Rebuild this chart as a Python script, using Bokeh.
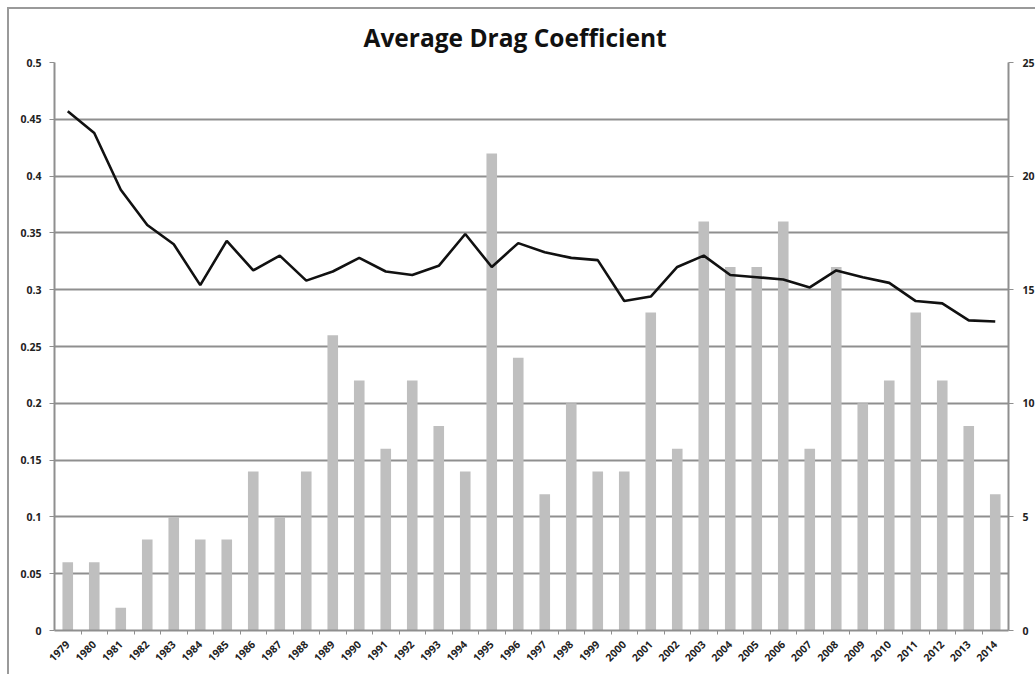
import math

from bokeh.embed import file_html
from bokeh.models import FixedTicker, LinearAxis, Range1d
from bokeh.plotting import figure
from bokeh.resources import INLINE

# Model years shown along the bottom axis
years = list(range(1979, 2015))

# Average drag coefficient per model year (left axis)
avg_cd = [0.457, 0.438, 0.388, 0.357, 0.340, 0.304, 0.343, 0.317, 0.330,
          0.308, 0.316, 0.328, 0.316, 0.313, 0.321, 0.349, 0.320, 0.341,
          0.333, 0.328, 0.326, 0.290, 0.294, 0.320, 0.330, 0.313, 0.311,
          0.309, 0.302, 0.317, 0.311, 0.306, 0.290, 0.288, 0.273, 0.272]

# Number of cars sampled per year (right axis)
car_count = [3, 3, 1, 4, 5, 4, 4, 7, 5, 7, 13, 11, 8, 11, 9, 7, 21, 12,
             6, 10, 7, 7, 14, 8, 18, 16, 16, 18, 8, 16, 10, 11, 14, 11, 9, 6]

left_ticks = [0, 0.05, 0.1, 0.15, 0.2, 0.25, 0.3, 0.35, 0.4, 0.45, 0.5]
left_labels = ["0", "0.05", "0.1", "0.15", "0.2", "0.25", "0.3", "0.35",
               "0.4", "0.45", "0.5"]
right_ticks = [0, 5, 10, 15, 20, 25]

GRID = "#8f8f8f"
LABEL_FONT = "Open Sans"
LABEL_SIZE = "10.5px"

p = figure(
    width=1028, height=667,
    x_range=Range1d(years[0] - 0.5, years[-1] + 0.5),
    y_range=Range1d(0, 0.5),
    output_backend="svg", toolbar_location=None,
    title="Average Drag Coefficient",
    min_border_left=45, min_border_right=29,
    min_border_top=53, min_border_bottom=46,
    margin=(7, 0, 0, 7),
    styles={"border-top": "2px solid #9a9a9a", "border-left": "2px solid #9a9a9a"},
)
p.extra_y_ranges = {"count": Range1d(0, 25)}

# Title sits a little left of the plot-area centre
p.title.align = "left"
p.title.offset = 309
p.title.text_font = LABEL_FONT
p.title.text_font_size = "24.5px"
p.title.text_font_style = "bold"
p.title.text_color = "#111111"
p.title.standoff = 18

p.outline_line_color = None
p.background_fill_color = "white"
p.border_fill_color = "white"

# Bars for the sample counts, on the secondary axis
p.vbar(x=years, top=car_count, width=0.4, y_range_name="count",
       fill_color="#bfbfbf", line_color=None)

# Line for the average drag coefficient
p.line(x=years, y=avg_cd, line_color="#111111", line_width=2.6)

# Bottom axis: year labels, ticks at the category boundaries
xa = p.xaxis[0]
xa.ticker = FixedTicker(ticks=years, minor_ticks=[y + 0.5 for y in years[:-1]])
xa.major_label_orientation = math.pi / 4
xa.major_tick_line_color = None
xa.minor_tick_line_color = GRID
xa.minor_tick_out = 4
xa.minor_tick_in = 0
xa.axis_line_color = GRID
xa.axis_line_width = 2
xa.major_label_text_font = LABEL_FONT
xa.major_label_text_font_size = LABEL_SIZE
xa.major_label_text_font_style = "bold"
xa.major_label_text_color = "#222222"
xa.major_label_standoff = 6

# Left axis: drag coefficient
ya = p.yaxis[0]
ya.ticker = FixedTicker(ticks=left_ticks)
ya.major_label_overrides = dict(zip(left_ticks, left_labels))
ya.minor_tick_line_color = None
ya.major_tick_in = 0
ya.major_tick_out = 5
ya.major_tick_line_color = GRID
ya.axis_line_color = GRID
ya.axis_line_width = 2
ya.major_label_text_font = LABEL_FONT
ya.major_label_text_font_size = LABEL_SIZE
ya.major_label_text_font_style = "bold"
ya.major_label_text_color = "#222222"
ya.major_label_standoff = 8

# Right axis: number of cars
ra = LinearAxis(y_range_name="count", ticker=FixedTicker(ticks=right_ticks))
ra.minor_tick_line_color = None
ra.major_tick_in = 0
ra.major_tick_out = 5
ra.major_tick_line_color = GRID
ra.axis_line_color = GRID
ra.axis_line_width = 2
ra.major_label_text_font = LABEL_FONT
ra.major_label_text_font_size = LABEL_SIZE
ra.major_label_text_font_style = "bold"
ra.major_label_text_color = "#222222"
ra.major_label_standoff = 9
p.add_layout(ra, "right")

p.xgrid.grid_line_color = None
p.ygrid.grid_line_color = GRID
p.ygrid.grid_line_width = 2

open("out.html", "w").write(file_html(p, INLINE))
